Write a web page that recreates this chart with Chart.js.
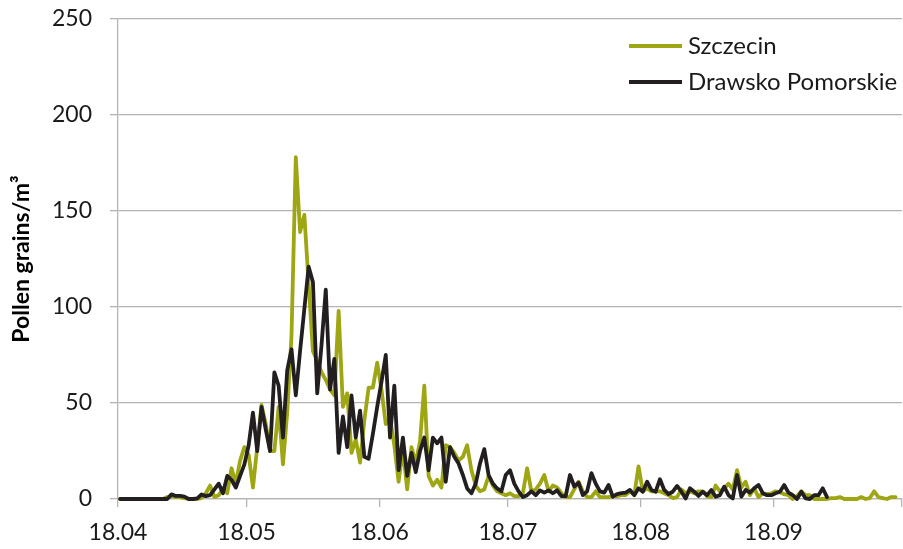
<!DOCTYPE html>
<html>
<head>
<meta charset="utf-8">
<script src="https://cdn.jsdelivr.net/npm/chart.js@4.4.1/dist/chart.umd.min.js"></script>
<style>
  html, body { margin: 0; padding: 0; background: #fff; }
  #wrap { width: 903px; height: 549px; }
</style>
</head>
<body>
<div id="wrap"><canvas id="pollen"></canvas></div>
<script>
// daily values, day 0 = 18.04
const szczecin = [
  0, 0, 0, 0, 0, 0, 0, 0, 0, 0,
  0, 1, 1.5, 1, 1, 0.5, 0, 0, 0, 0.5,
  3, 7, 1, 2, 5.5, 3, 16, 8, 20, 27,
  23, 6, 27, 49, 39, 25, 25, 48, 18, 45,
  85, 178, 139, 148, 112, 77, 72, 66, 62, 57,
  54, 98, 48, 55, 24, 31, 19, 41, 58, 58,
  71, 57, 39, 42, 28, 9, 26, 5, 27, 19,
  30, 59, 12, 7, 10, 6, 28, 27, 24, 20,
  22, 28, 15, 7, 4, 5, 12, 7, 4, 3,
  2, 3, 1.5, 1.5, 3, 16, 4, 5, 8, 12.5,
  4, 7, 6, 3, 1, 1, 5, 9, 4, 1,
  1, 4, 1, 1, 1, 1.5, 1.5, 2, 2, 4,
  2, 17, 4, 5.5, 4, 4, 4, 3, 2, 0.5,
  1, 5, 3, 4, 3, 4, 4, 1.5, 1, 7,
  4, 5.5, 8, 5, 15, 6, 9, 2, 5.5, 1,
  3, 2.5, 3, 4, 3.5, 2.5, 2, 0, 1.5, 4,
  2, 2, 0, 0, 0, 0, 0.5, 0.5, 1, 0,
  0, 0, 0, 1, 0, 0.5, 4, 1, 0.5, 0,
  1, 1
]
const drawsko = [
  0, 0, 0, 0, 0, 0, 0, 0, 0, 0,
  0, 0, 2.4, 1.6, 1.6, 1.2, 0, 0, 0.3, 2.4,
  1.5, 2, 5, 8, 3, 12, 10, 6, 12, 18,
  28, 45, 25, 48, 36, 25, 66, 59, 32, 67,
  78, 54, 77, 99, 121, 113, 55, 80, 109, 57,
  73, 24, 43, 27, 54, 32, 46, 22, 21, 34,
  48, 61, 75, 32, 59, 15, 32, 12, 24, 14,
  25, 32, 15, 32, 29, 32, 9, 27, 22, 18.5,
  12.5, 5.5, 3, 8, 18.5, 26, 12.5, 8, 5.5, 4,
  12.5, 15, 8, 4, 1, 2, 4, 2, 4.5, 3.3,
  4.5, 3, 4.5, 1.5, 1.5, 12.5, 6.5, 8.5, 2, 4,
  13.5, 8, 4, 3.3, 7.3, 1.2, 2.6, 3, 3.3, 4.7,
  2, 5.6, 3.8, 9, 4.7, 3.8, 10.3, 4.7, 2.6, 3.8,
  6.8, 3.8, 0.3, 5.6, 3.8, 1.6, 3.8, 2, 4.7, 1.2,
  2, 6.4, 2, 0.3, 12.5, 1.2, 4.7, 3.3, 5.6, 7.3,
  3, 2, 2, 3, 3.8, 7.3, 3.3, 2, 0, 3.8,
  0.3, 0, 2, 2, 5.6, 1
]
const seriesNames = ['Szczecin', 'Drawsko Pomorskie']
const seriesColors = ['#9ea614', '#231f20']
const monthLabels = ['18.04', '18.05', '18.06', '18.07', '18.08', '18.09', '']
const monthDays = [0, 30, 61, 91, 122, 153, 183]
const yTicks = [0, 50, 100, 150, 200, 250]

const FONT = 'Lato'

function toPoints(arr) {
  return arr.map((v, i) => ({ x: i + 0.5, y: v }))
}

// legend drawn inside the plot, top right
const sideLegend = {
  id: 'sideLegend',
  afterDraw(chart) {
    const ctx = chart.ctx
    ctx.save()
    ctx.font = '24px ' + FONT
    ctx.fillStyle = '#1a1a1a'
    ctx.textBaseline = 'middle'
    chart.data.datasets.forEach((ds, i) => {
      const y = 46 + i * 36
      ctx.strokeStyle = ds.borderColor
      ctx.lineWidth = 4
      ctx.beginPath()
      ctx.moveTo(629, y)
      ctx.lineTo(682, y)
      ctx.stroke()
      ctx.fillText(ds.label, 688, y)
    })
    ctx.restore()
  }
}

const gridCol = '#b4b4b4'

new Chart(document.getElementById('pollen'), {
  type: 'line',
  data: {
    datasets: [
      { label: seriesNames[0], data: toPoints(szczecin), borderColor: seriesColors[0], order: 1 },
      { label: seriesNames[1], data: toPoints(drawsko), borderColor: seriesColors[1], order: 0 }
    ]
  },
  options: {
    responsive: true,
    maintainAspectRatio: false,
    animation: false,
    layout: { padding: { top: 19, right: 1, left: 0, bottom: 0 } },
    elements: {
      point: { radius: 0 },
      line: { borderWidth: 3.8, tension: 0, borderJoinStyle: 'round', borderCapStyle: 'round', fill: false }
    },
    datasets: { line: { clip: false } },
    plugins: {
      legend: { display: false },
      tooltip: { enabled: false }
    },
    scales: {
      x: {
        type: 'linear',
        min: 0,
        max: 183,
        afterBuildTicks(scale) {
          scale.ticks = monthDays.map(v => ({ value: v }))
        },
        afterFit(scale) {
          scale.height = 50
          scale.paddingRight = 0
        },
        ticks: {
          autoSkip: false,
          maxRotation: 0,
          padding: 12,
          color: '#1a1a1a',
          font: { family: FONT, size: 23 },
          callback: (v, i) => monthLabels[i]
        },
        grid: { drawOnChartArea: false, drawTicks: true, tickLength: 8, color: gridCol, lineWidth: 1.3 },
        border: { color: gridCol, width: 1.3 }
      },
      y: {
        min: 0,
        max: 250,
        afterBuildTicks(scale) {
          scale.ticks = yTicks.map(v => ({ value: v }))
        },
        afterFit(scale) {
          scale.width = 118
          // tick padding would otherwise push the plot top down
          scale.paddingTop = 0
          scale.paddingBottom = 0
        },
        ticks: {
          padding: 18,
          color: '#1a1a1a',
          font: { family: FONT, size: 23 }
        },
        grid: { color: gridCol, lineWidth: 1.3, tickLength: 8 },
        border: { color: gridCol, width: 1.3 },
        title: {
          display: true,
          text: 'Pollen grains/m³',
          color: '#000',
          font: { family: FONT, size: 23, weight: 'bold' },
          padding: { top: 8, bottom: 0 }
        }
      }
    }
  },
  plugins: [sideLegend]
})
</script>
</body>
</html>
